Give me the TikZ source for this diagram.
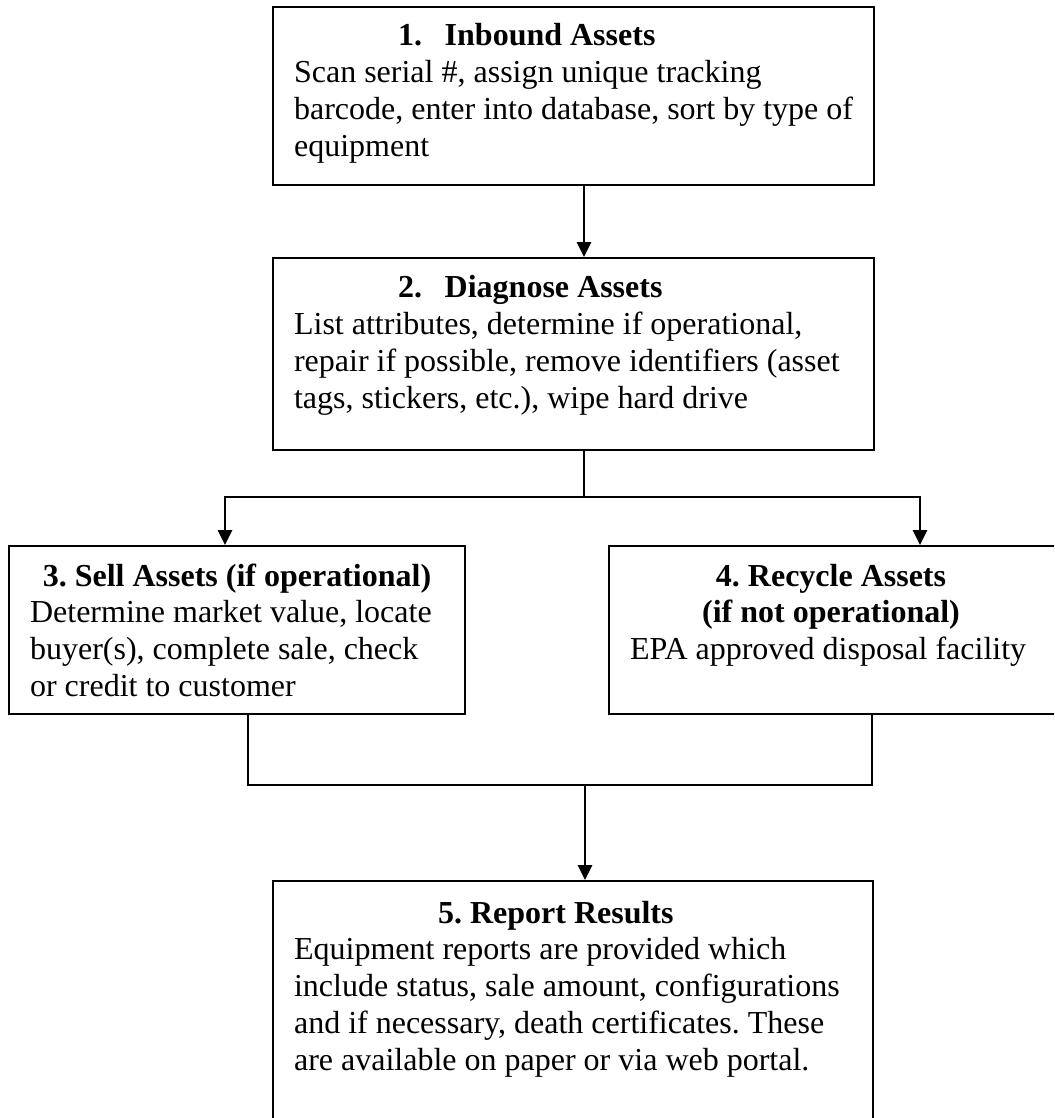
\documentclass[tikz,border=0pt]{standalone}
\usepackage{fontspec}
\setmainfont{Liberation Serif}
\usetikzlibrary{arrows.meta}

\begin{document}
\begin{tikzpicture}[x=0.375pt, y=0.375pt, >={Triangle[length=5.6pt, width=5.4pt]},
  block/.style={rectangle, draw, line width=0.75pt, anchor=north west, inner xsep=7.9pt, inner ysep=0pt,
    execute at begin node={\raggedright\spaceskip=0.25em plus 0.05em minus 0.04em\xspaceskip=0.25em\relax},
    font=\fontsize{12pt}{13.8pt}\selectfont},
  link/.style={line width=0.5pt}]

  \useasboundingbox (0,0) rectangle (1054,-1118);
  \clip (0,0) rectangle (1054,-1118);

  % process boxes
  \node[block, text width=209.6pt, text height=14.6pt, text depth=52.1pt] (inbound) at (272,-6)
    {\hspace*{39pt}\textbf{\makebox[17.5pt][l]{1.}Inbound Assets}\\
     Scan serial \#, assign unique tracking\\
     barcode, enter into database, sort by type of\\
     equipment};
  \node[block, text width=209.6pt, text height=15pt, text depth=57pt] (diagnose) at (272,-257)
    {\hspace*{39pt}\textbf{\makebox[17.5pt][l]{2.}Diagnose Assets}\\
     List attributes, determine if operational,\\
     repair if possible, remove identifiers (asset\\
     tags, stickers, etc.), wipe hard drive};
  \node[block, text width=155.2pt, text height=15pt, text depth=48pt] (sell) at (8,-545)
    {{\centering\bfseries 3. Sell Assets (if operational)\par}
     Determine market value, locate\\
     buyer(s), complete sale, check\\
     or credit to customer};
  \node[block, text width=155.2pt, text height=15pt, text depth=48pt] (recycle) at (608,-545)
    {\centering\textbf{4. Recycle Assets}\kern4.5pt\\
     \textbf{(if not operational)}\kern4.5pt\\
     EPA approved disposal facility\kern4.5pt};
  \node[block, text width=209.2pt, text height=15.75pt, text depth=93.75pt] (report) at (272,-880)
    {\hspace*{54pt}\textbf{5. Report Results}\\
     Equipment reports are provided which\\
     include status, sale amount, configurations\\
     and if necessary, death certificates. These\\
     are available on paper or via web portal.};

  % connector corners
  \coordinate (stem) at (584,-497);
  \coordinate (forkL) at (225,-497);
  \coordinate (forkR) at (920,-497);
  \coordinate (join) at (585,-785);
  \coordinate (joinL) at (248,-785);
  \coordinate (joinR) at (872,-785);

  \draw[link, ->] (inbound.south -| stem) -- (diagnose.north -| stem);
  \draw[link] (diagnose.south -| stem) -- (stem);
  \draw[link, <->] (sell.north -| forkL) -- (forkL) -- (forkR) -- (recycle.north -| forkR);
  \draw[link] (sell.south -| joinL) -- (joinL) -- (joinR) -- (recycle.south -| joinR);
  \draw[link, ->] (join) -- (report.north -| join);
\end{tikzpicture}
\end{document}
